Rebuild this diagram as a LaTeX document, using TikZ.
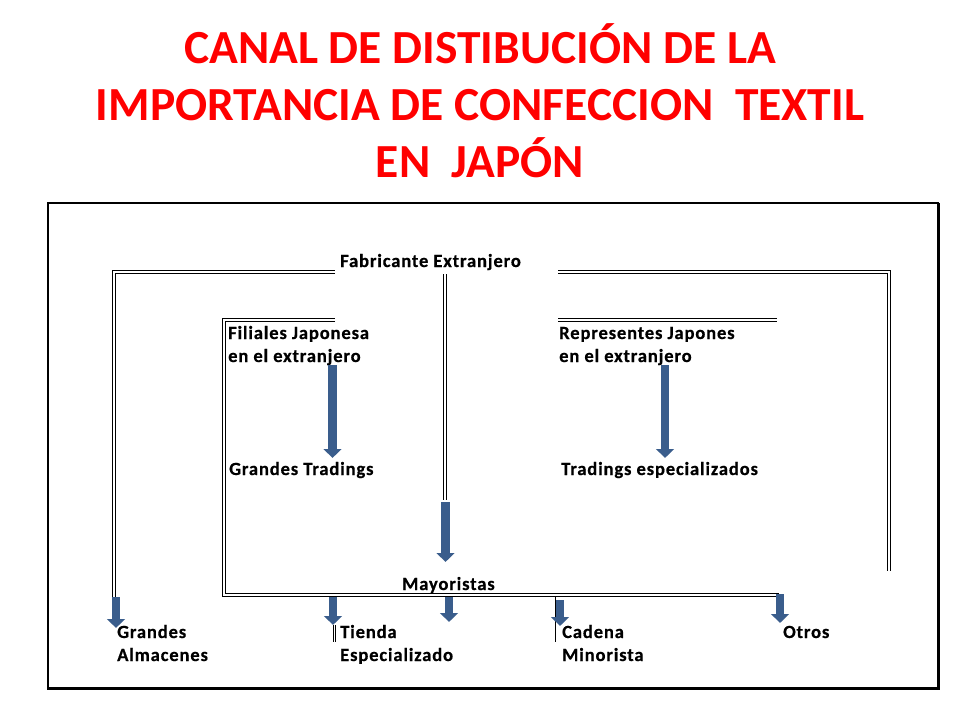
\documentclass[tikz,border=0pt]{standalone}
\usepackage{fontspec}
\usetikzlibrary{arrows.meta}
\newfontfamily\bodyfont[LetterSpace=4.5,BoldFeatures={FakeBold=0.5}]{Carlito}
\newfontfamily\titlefont{Carlito}
\definecolor{arrowblue}{RGB}{58,93,140}
\definecolor{titlered}{RGB}{255,0,0}
\tikzset{
  dbl/.style={draw=black, double=white, line width=1.2pt, double distance=1.5pt},
  thindbl/.style={draw=black, double=white, line width=0.7pt, double distance=1pt},
  barrow/.style={draw=arrowblue, line width=8.5pt, -{Triangle[width=17.5pt,length=9pt]}},
  lbl/.style={font=\bodyfont\bfseries\fontsize{18.6}{23}\selectfont, inner sep=0pt, anchor=base west, align=left},
  ttl/.style={font=\titlefont\bfseries\fontsize{47.5}{57}\selectfont, text=titlered, inner sep=0pt, anchor=base, align=center}
}
\begin{document}
\begin{tikzpicture}[x=1pt,y=-1pt]
\useasboundingbox (0,0) rectangle (960,720);
\fill[white] (0,0) rectangle (960,720);
% title (anchor = baseline of last line)
\node[ttl] (title) at (480,177) {CANAL DE DISTIBUCIÓN DE LA\\IMPORTANCIA DE CONFECCION\ \ TEXTIL\\EN\ \ JAPÓN};
% frame
\draw[line width=1.4pt] (48,203) rectangle (938,688);
\draw[line width=3pt] (938,203) -- (938,688) -- (47,688);
% labels (anchor = baseline of last line)
\node[lbl] (fab) at (340,267) {Fabricante Extranjero};
\node[lbl] (fil) at (228,362) {Filiales Japonesa\\en el extranjero};
\node[lbl] (rep) at (559,362) {Representes Japones\\en el extranjero};
\node[lbl] (gt) at (229,475) {Grandes Tradings};
\node[lbl] (te) at (561,475) {Tradings especializados};
\node[lbl] (may) at (402,590) {Mayoristas};
\node[lbl] (ga) at (117,661) {Grandes\\Almacenes};
\node[lbl] (ti) at (340,661) {Tienda\\Especializado};
\node[lbl] (ca) at (562,661) {Cadena\\Minorista};
\node[lbl] (ot) at (783,638) {Otros};
% coordinates
\coordinate (oL1) at (335,272);
\coordinate (oTL) at (114,272);
\coordinate (oBL) at (114,597);
\coordinate (oR1) at (558,272);
\coordinate (oTR) at (889,272);
\coordinate (oBR) at (889,571);
\coordinate (iL1) at (335,320);
\coordinate (iTL) at (224,320);
\coordinate (iBL) at (224,595);
\coordinate (iBR) at (779,595);
\coordinate (iR1) at (558,320);
\coordinate (iR2) at (777,320);
\coordinate (cT) at (445,274);
\coordinate (cB) at (445,500);
% double lines
\draw[dbl] (oL1) -- (oTL) -- (oBL);
\draw[dbl] (oR1) -- (oTR) -- (oBR);
\draw[dbl] (iL1) -- (iTL) -- (iBL) -- (iBR);
\draw[dbl] (iR1) -- (iR2);
\draw[dbl] (cT) -- (cB);
\coordinate (tdT) at (334.5,625);
\coordinate (tdB) at (334.5,642);
\coordinate (cdT) at (556,597);
\coordinate (cdB) at (556,642);
\draw[thindbl] (tdT) -- (tdB);
\draw[thindbl] (cdT) -- (cdB);
% arrows
\coordinate (a1s) at (332.5,365); \coordinate (a1e) at (332.5,458);
\coordinate (a2s) at (665,365); \coordinate (a2e) at (665,458);
\coordinate (a3s) at (445.5,502); \coordinate (a3e) at (445.5,562);
\coordinate (a4s) at (116,597); \coordinate (a4e) at (116,628);
\coordinate (a5s) at (333,597); \coordinate (a5e) at (333,625);
\coordinate (a6s) at (449,597); \coordinate (a6e) at (449,622);
\coordinate (a7s) at (560,600); \coordinate (a7e) at (560,626);
\coordinate (a8s) at (780,594); \coordinate (a8e) at (780,623);
\draw[barrow] (a1s) -- (a1e);
\draw[barrow] (a2s) -- (a2e);
\draw[barrow] (a3s) -- (a3e);
\draw[barrow] (a4s) -- (a4e);
\draw[barrow] (a5s) -- (a5e);
\draw[barrow] (a6s) -- (a6e);
\draw[barrow] (a7s) -- (a7e);
\draw[barrow] (a8s) -- (a8e);
\end{tikzpicture}
\end{document}
